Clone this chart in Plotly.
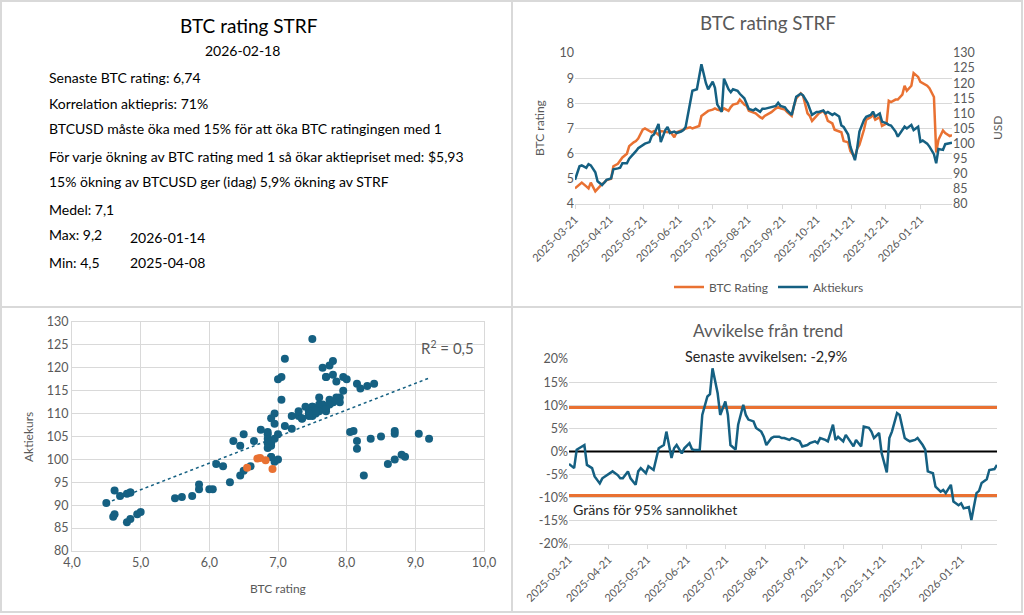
import numpy as np
import pandas as pd
import plotly.graph_objects as go

# one value every second trading day, 2025-03-21 .. 2026-02-18
rating = [
    4.62, 4.80, 4.85, 4.70, 4.62, 4.85, 4.50, 4.60, 4.80, 4.85, 4.95,
    5.00, 5.50, 5.60, 5.75, 5.85, 6.00, 6.30, 6.45, 6.50, 6.60, 6.95,
    7.00, 6.90, 6.85, 6.90, 6.75, 6.90, 6.85, 6.85, 6.90, 6.65, 6.85,
    6.90, 6.95, 7.00, 7.05, 7.00, 7.05, 7.10, 7.50, 7.65, 7.70, 7.75,
    7.80, 7.75, 7.70, 7.80, 7.70, 7.85, 7.95, 8.00, 8.15, 7.95, 7.90,
    7.70, 7.65, 7.60, 7.45, 7.40, 7.50, 7.60, 7.65, 7.80, 7.85, 7.80,
    7.75, 7.65, 7.50, 7.90, 8.20, 8.40, 8.30, 7.60, 7.50, 7.30, 7.50,
    7.60, 7.70, 7.55, 7.30, 7.20, 6.95, 6.90, 6.85, 6.50, 6.45, 6.10,
    5.85, 6.20, 6.35, 6.95, 7.35, 7.45, 7.55, 7.35, 7.45, 7.10, 7.20,
    8.10, 8.05, 8.15, 8.15, 8.35, 8.70, 8.50, 8.70, 9.20, 9.05, 8.85,
    8.80, 8.70, 8.60, 8.25, 6.05, 6.55, 6.92, 6.82, 6.70, 6.74,
]
aktiekurs = [
    88.0, 92.5, 92.8, 92.0, 93.2, 92.8, 90.5, 87.5, 86.3, 87.0, 88.0,
    88.5, 91.5, 91.8, 92.0, 93.5, 93.5, 95.0, 96.5, 97.5, 98.5, 99.5,
    100.0, 100.5, 102.5, 103.0, 106.5, 100.5, 104.5, 105.5, 103.5, 104.0, 103.5,
    104.0, 104.5, 105.5, 113.0, 117.5, 118.0, 122.0, 126.3, 120.0, 118.0, 120.5,
    118.5, 113.0, 110.5, 121.5, 118.0, 117.0, 118.0, 117.5, 116.5, 115.0, 113.5,
    111.5, 111.0, 111.5, 110.5, 111.5, 111.5, 112.0, 112.0, 112.5, 113.5, 112.5,
    112.0, 111.0, 109.5, 112.5, 115.5, 116.5, 116.0, 113.5, 111.5, 109.5, 110.5,
    110.5, 111.0, 110.0, 110.5, 109.5, 110.0, 109.0, 106.0, 105.5, 103.0, 99.0,
    94.5, 98.5, 104.0, 107.8, 108.9, 109.5, 110.6, 109.0, 110.0, 107.3, 106.7,
    106.2, 106.0, 104.0, 102.3, 104.5, 105.6, 105.0, 106.2, 104.5, 105.6, 100.6,
    101.0, 100.0, 99.0, 96.5, 93.5, 98.2, 97.9, 99.8, 100.2, 100.3,
]
# avvikelse fran trend, procent
avvikelse = [
    -2.7, -3.6, 0.4, 1.1, 1.4, -2.9, -3.6, -5.4, -6.9, -5.8, -5.4,
    -4.7, -4.3, -5.1, -5.8, -5.8, -4.3, -5.8, -7.2, -4.3, -3.6, -4.7,
    -3.2, -4.0, -1.4, 0.7, 1.4, 4.3, -1.4, 0.7, 1.4, -0.4, 0.7,
    1.8, 0.5, 0.3, 0.3, 7.9, 11.9, 12.4, 18.0, 12.6, 7.9, 10.8,
    7.9, 1.4, 0.4, 5.8, 10.1, 7.9, 6.9, 6.5, 5.1, 4.3, 3.2,
    1.4, 2.9, 3.2, 3.2, 2.9, 2.9, 2.5, 2.9, 2.5, 2.2, 1.1,
    1.4, 1.8, 2.2, 1.8, 2.9, 2.5, 2.2, 5.8, 2.5, 3.2, 2.2,
    3.6, 1.8, 1.1, 2.5, 1.1, 5.4, 5.1, 4.3, 2.9, 4.0, -0.4,
    -4.5, 2.9, 4.3, 8.3, 7.9, 2.9, 2.5, 2.2, 2.5, 2.9, 1.4,
    0.4, -4.3, -4.7, -7.6, -8.7, -8.3, -9.0, -7.2, -10.8, -11.6, -11.2,
    -12.3, -12.0, -14.8, -9.0, -8.5, -6.8, -6.0, -4.0, -3.8, -2.9,
]
grans = 9.5          # 95% band
antal_senaste = 5    # latest points shown orange in the scatter

dev_ticks = [-20, -15, -10, -5, 0, 5, 10, 15, 20]
dev_ticktext = ["-20%", "-15%", "-10%", "-5%", "0%", "5%", "10%", "15%", "20%"]

info_rader = [
    "Senaste BTC rating: 6,74",
    "Korrelation aktiepris: 71%",
    "BTCUSD måste öka med 15% för att öka BTC ratingingen med 1",
    "För varje ökning av BTC rating med 1 så ökar aktiepriset med: $5,93",
    "15% ökning av BTCUSD ger (idag) 5,9% ökning av STRF",
    "Medel: 7,1",
    "Max: 9,2",
    "Min: 4,5",
]
max_datum = "2026-01-14"
min_datum = "2025-04-08"

dates = pd.bdate_range("2025-03-21", "2026-02-18")[::2][:len(rating)]

ORANGE = "#E97132"
BLUE = "#156082"
GRID = "#D9D9D9"
TXT = "#595959"
FONT = "Lato"
W, H = 1024, 615


def px(x):
    return x / W


def py(y):
    return 1 - y / H


fig = go.Figure()

# --- top right: rating + aktiekurs
fig.add_trace(go.Scatter(x=dates, y=rating, name="BTC Rating", mode="lines",
                         line=dict(color=ORANGE, width=2.5), xaxis="x", yaxis="y"))
fig.add_trace(go.Scatter(x=dates, y=aktiekurs, name="Aktiekurs", mode="lines",
                         line=dict(color=BLUE, width=2.5), xaxis="x", yaxis="y2"))

# --- bottom left: scatter
n = len(rating) - antal_senaste
fig.add_trace(go.Scatter(x=rating[:n], y=aktiekurs[:n], mode="markers", showlegend=False,
                         marker=dict(color=BLUE, size=8), xaxis="x3", yaxis="y3"))
fig.add_trace(go.Scatter(x=rating[n:], y=aktiekurs[n:], mode="markers", showlegend=False,
                         marker=dict(color=ORANGE, size=8), xaxis="x3", yaxis="y3"))
k, m = np.polyfit(rating, aktiekurs, 1)
tx = np.array([min(rating), max(rating)])
fig.add_trace(go.Scatter(x=tx, y=k * tx + m, mode="lines", showlegend=False,
                         line=dict(color=BLUE, width=1.5, dash="dot"), xaxis="x3", yaxis="y3"))

# --- bottom right: avvikelse
fig.add_trace(go.Scatter(x=dates, y=[grans] * len(dates), mode="lines", showlegend=False,
                         line=dict(color=ORANGE, width=3), xaxis="x4", yaxis="y4"))
fig.add_trace(go.Scatter(x=dates, y=[-grans] * len(dates), mode="lines", showlegend=False,
                         line=dict(color=ORANGE, width=3), xaxis="x4", yaxis="y4"))
fig.add_trace(go.Scatter(x=dates, y=[0] * len(dates), mode="lines", showlegend=False,
                         line=dict(color="black", width=2), xaxis="x4", yaxis="y4"))
fig.add_trace(go.Scatter(x=dates, y=avvikelse, mode="lines", showlegend=False,
                         line=dict(color=BLUE, width=2.5), xaxis="x4", yaxis="y4"))

tickfont = dict(family=FONT, size=12.5, color=TXT)
datefont = dict(family=FONT, size=11, color=TXT)
date_axis = dict(type="date", range=[dates[0], dates[-1]], tick0="2025-03-21", dtick="M1",
                 tickformat="%Y-%m-%d", tickangle=-45, tickfont=datefont, showgrid=False,
                 showline=True, linecolor=GRID, linewidth=1, ticks="outside", ticklen=4,
                 tickcolor=GRID, zeroline=False, automargin=False)

fig.update_layout(
    template="none",
    width=W, height=H, margin=dict(l=0, r=0, t=0, b=0, pad=0),
    paper_bgcolor="white", plot_bgcolor="white", separators=", ",
    font=dict(family=FONT, color=TXT),
    xaxis=dict(date_axis, domain=[px(575), px(952)], anchor="y"),
    yaxis=dict(domain=[py(204), py(53)], range=[4, 10], dtick=1, tickfont=tickfont,
               gridcolor=GRID, zeroline=False, anchor="x", automargin=False, ticks=""),
    yaxis2=dict(overlaying="y", side="right", range=[80, 130], dtick=5, tickfont=tickfont,
                showgrid=False, zeroline=False, anchor="x", automargin=False, ticks=""),
    xaxis3=dict(domain=[px(72), px(484)], range=[4, 10], dtick=1, tickformat=".1f",
                tickfont=tickfont, gridcolor=GRID, zeroline=False, showline=True, mirror=True,
                linecolor=GRID, anchor="y3", automargin=False, ticks=""),
    yaxis3=dict(domain=[py(551), py(322)], range=[80, 130], dtick=5, tickfont=tickfont,
                gridcolor=GRID, zeroline=False, showline=True, mirror=True, linecolor=GRID,
                anchor="x3", automargin=False, ticks=""),
    xaxis4=dict(date_axis, domain=[px(569), px(997)], anchor="y4"),
    yaxis4=dict(domain=[py(544), py(359)], range=[-20, 20], tickvals=dev_ticks,
                ticktext=dev_ticktext, tickfont=tickfont, gridcolor=GRID, zeroline=False,
                anchor="x4", automargin=False, ticks=""),
    legend=dict(orientation="h", x=px(769), xanchor="center", y=py(287), yanchor="middle",
                font=dict(family=FONT, size=12, color=TXT), bgcolor="rgba(0,0,0,0)"),
    hovermode=False,
)

ann = []


def text(x, y, s, size, color=TXT, xanchor="center", angle=0):
    ann.append(dict(x=px(x), y=py(y), xref="paper", yref="paper", text=s, showarrow=False,
                    xanchor=xanchor, yanchor="middle", textangle=angle,
                    font=dict(family=FONT, size=size, color=color)))


# top left info panel
text(249, 25, "BTC rating STRF", 19, "black")
text(242, 51, "2026-02-18", 14, "black")
rad_y = [77, 103, 129, 156, 182, 209, 235, 262]
for s, y in zip(info_rader, rad_y):
    text(47, y, s, 14, "black", "left")
text(128, 237, max_datum, 14, "black", "left")
text(128, 262, min_datum, 14, "black", "left")

# top right
text(768, 23, "BTC rating STRF", 18.8)
text(539, 128, "BTC rating", 12, angle=-90)
text(997, 128, "USD", 12, angle=-90)

# bottom left
text(28, 437, "Aktiekurs", 12, angle=-90)
text(278, 588, "BTC rating", 12)
text(447, 348, "R<sup>2</sup> = 0,5", 15)

# bottom right
text(768, 330, "Avvikelse från trend", 17.2)
text(766, 356, "Senaste avvikelsen: -2,9%", 14.4, "#262626")
text(571, 509, "Gräns för 95% sannolikhet", 14.2, "#262626", "left")

fig.update_layout(annotations=ann)

# panel borders
line = dict(color=GRID, width=2)
fig.add_shape(type="rect", xref="paper", yref="paper", x0=px(1), x1=px(1022), y0=py(612), y1=py(1), line=line)
fig.add_shape(type="line", xref="paper", yref="paper", x0=px(512), x1=px(512), y0=py(612), y1=py(1), line=line)
fig.add_shape(type="line", xref="paper", yref="paper", x0=px(1), x1=px(1022), y0=py(307), y1=py(307), line=line)

# page body has a default margin; drop it so the figure fills the window
fig.write_html("out.html", config={"displayModeBar": False},
               post_script="document.body.style.margin='0';document.body.style.overflow='hidden';")
